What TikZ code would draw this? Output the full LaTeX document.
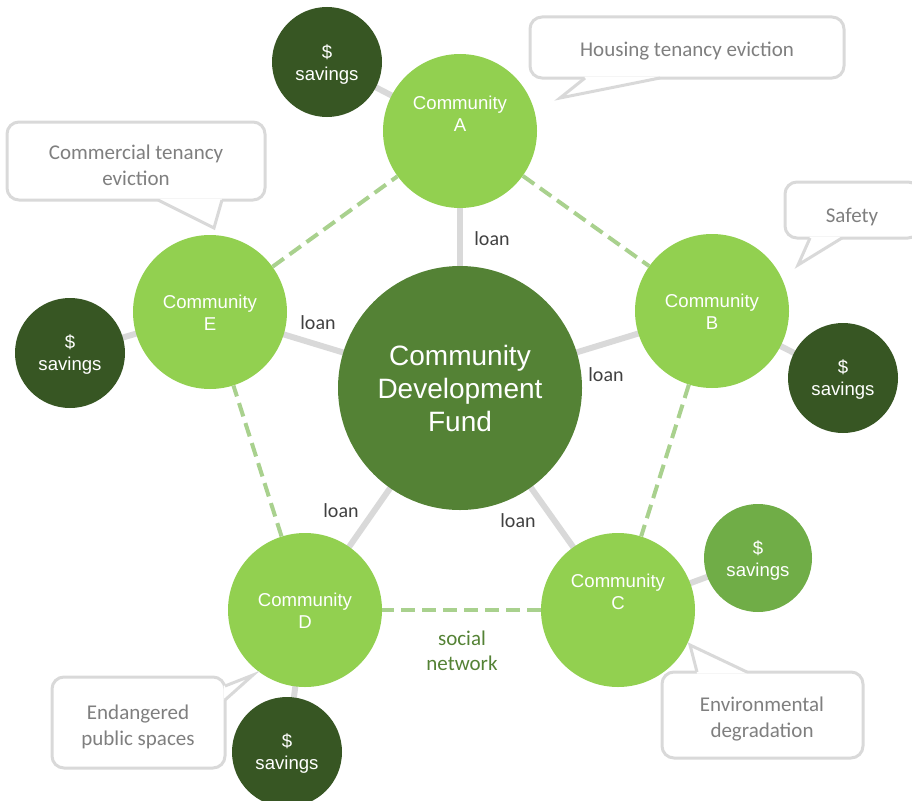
\documentclass[tikz,border=0pt]{standalone}
\usepackage{fontspec}
\setmainfont{Liberation Sans}
\newfontfamily\calib{Carlito}
\usetikzlibrary{backgrounds}
\definecolor{lgreen}{HTML}{92D050}
\definecolor{mgreen}{HTML}{548235}
\definecolor{dgreen}{HTML}{375623}
\definecolor{sgreen}{HTML}{70AD47}
\definecolor{dashgreen}{HTML}{A9D18E}
\definecolor{linegray}{HTML}{D9D9D9}
\definecolor{txtgray}{HTML}{7F7F7F}
\definecolor{loangray}{HTML}{404040}
\begin{document}
\begin{tikzpicture}[x=1pt,y=-1pt,
 comm/.style={circle,fill=lgreen,minimum size=154pt,inner sep=0pt},
 commtext/.style={text=white,align=center,font=\fontsize{18.6}{22}\selectfont,inner sep=0pt},
 fund/.style={circle,fill=mgreen,minimum size=244pt,inner sep=0pt,text=white,align=center,font=\fontsize{28}{33}\selectfont},
 sav/.style={circle,fill=dgreen,minimum size=110pt,inner sep=0pt},
 savtext/.style={text=white,align=center,font=\fontsize{18.6}{22}\selectfont,inner sep=0pt},
 link/.style={draw=linegray,line width=6pt},
 peer/.style={draw=dashgreen,line width=4pt,dash pattern=on 14pt off 7pt},
 loanlbl/.style={text=loangray,font=\calib\fontsize{20}{24}\selectfont,inner sep=0pt},
 callbox/.style={draw=linegray,line width=3pt,fill=white,rounded corners=12pt,inner sep=0pt},
 calltext/.style={text=txtgray,align=center,font=\calib\fontsize{21}{26}\selectfont,inner sep=0pt},
 ptr/.style={draw=linegray,line width=3pt,line join=miter},
 socl/.style={text=mgreen,align=center,font=\calib\fontsize{21}{25}\selectfont,inner sep=0pt},
]
\useasboundingbox (0,0) rectangle (912,800);

% central fund and communities
\node[fund] (F) at (460,388) {Community\\Development\\Fund};
\node[comm] (A) at (460,131) {};
\node[comm] (B) at (712,311) {};
\node[comm] (C) at (618,610) {};
\node[comm] (D) at (305,610) {};
\node[comm] (E) at (210,312) {};
\node[commtext] (At) at ([yshift=17pt]A.center) {Community\\A};
\node[commtext] (Bt) at ([yshift=-1pt]B.center) {Community\\B};
\node[commtext] (Ct) at ([yshift=18pt]C.center) {Community\\C};
\node[commtext] (Dt) at ([yshift=-1pt]D.center) {Community\\D};
\node[commtext] (Et) at ([yshift=-1pt]E.center) {Community\\E};

% savings
\node[sav] (As) at (327,62) {};
\node[sav] (Bs) at (843,378) {};
\node[sav,fill=sgreen,minimum size=108pt] (Cs) at (758,558) {};
\node[sav] (Ds) at (287,752) {};
\node[sav] (Es) at (70,353) {};
\node[savtext] (Ast) at ([yshift=-2.5pt]As.center) {\$\\savings};
\node[savtext] (Bst) at ([yshift=-2pt]Bs.center) {\$\\savings};
\node[savtext] (Cst) at ([yshift=-3pt]Cs.center) {\$\\savings};
\node[savtext] (Dst) at ([yshift=-2pt]Ds.center) {\$\\savings};
\node[savtext] (Est) at ([yshift=-2pt]Es.center) {\$\\savings};

% connectors
\begin{scope}[on background layer]
\draw[link] (F.center) -- (A.center);
\draw[link] (F.center) -- (B.center);
\draw[link] (F.center) -- (C.center);
\draw[link] (F.center) -- (D.center);
\draw[link] (F.center) -- (E.center);
\draw[link] (As.center) -- (A.center);
\draw[link] (Bs.center) -- (B.center);
\draw[link] (Cs.center) -- (C.center);
\draw[link] (Ds.center) -- (D.center);
\draw[link] (Es.center) -- (E.center);
\end{scope}
\draw[peer] (A) -- (B);
\draw[peer] (B) -- (C);
\draw[peer] (C) -- (D);
\draw[peer] (D) -- (E);
\draw[peer] (E) -- (A);

% loan labels
\node[loanlbl] (l1) at (492,239) {loan};
\node[loanlbl] (l2) at (606,375) {loan};
\node[loanlbl] (l3) at (518,521) {loan};
\node[loanlbl] (l4) at (341,511) {loan};
\node[loanlbl] (l5) at (318,323) {loan};
\node[socl] (sn) at (462,651) {social\\network};

% callouts
\node[callbox,minimum width=314pt,minimum height=61pt] (h) at (687,47.5) {};
\node[calltext] (ht) at (687,51) {Housing tenancy eviction};
\fill[white] (585,76.5) -- (560,98) -- (660,76.5) -- cycle;
\draw[ptr] (585,78) -- (560,98) -- (660,78);

\node[callbox,minimum width=258pt,minimum height=78pt] (cm) at (136,161) {};
\node[calltext] (cmt) at (136,165) {Commercial tenancy\\eviction};
\fill[white] (158,198.5) -- (214,228) -- (222,198.5) -- cycle;
\draw[ptr] (158,200) -- (214,228) -- (222,200);

\node[callbox,minimum width=135pt,minimum height=56pt] (sf) at (852.5,210) {};
\node[calltext] (sft) at (852,217) {Safety};
\fill[white] (810,236.5) -- (798,265) -- (842,236.5) -- cycle;
\draw[ptr] (810,238) -- (798,265) -- (842,238);

\node[callbox,minimum width=201pt,minimum height=86pt] (en) at (762.5,715) {};
\node[calltext] (ent) at (762,719) {Environmental\\degradation};
\fill[white] (697,673.5) -- (690,645) -- (747,673.5) -- cycle;
\draw[ptr] (697,672) -- (690,645) -- (747,672);

\node[callbox,minimum width=173pt,minimum height=91pt] (ed) at (138.5,722.5) {};
\node[calltext] (edt) at (138,726.5) {Endangered\\public spaces};
\fill[white] (223.5,686) -- (253,675) -- (223.5,700) -- cycle;
\draw[ptr] (225,686) -- (253,675) -- (225,700);
\end{tikzpicture}
\end{document}
